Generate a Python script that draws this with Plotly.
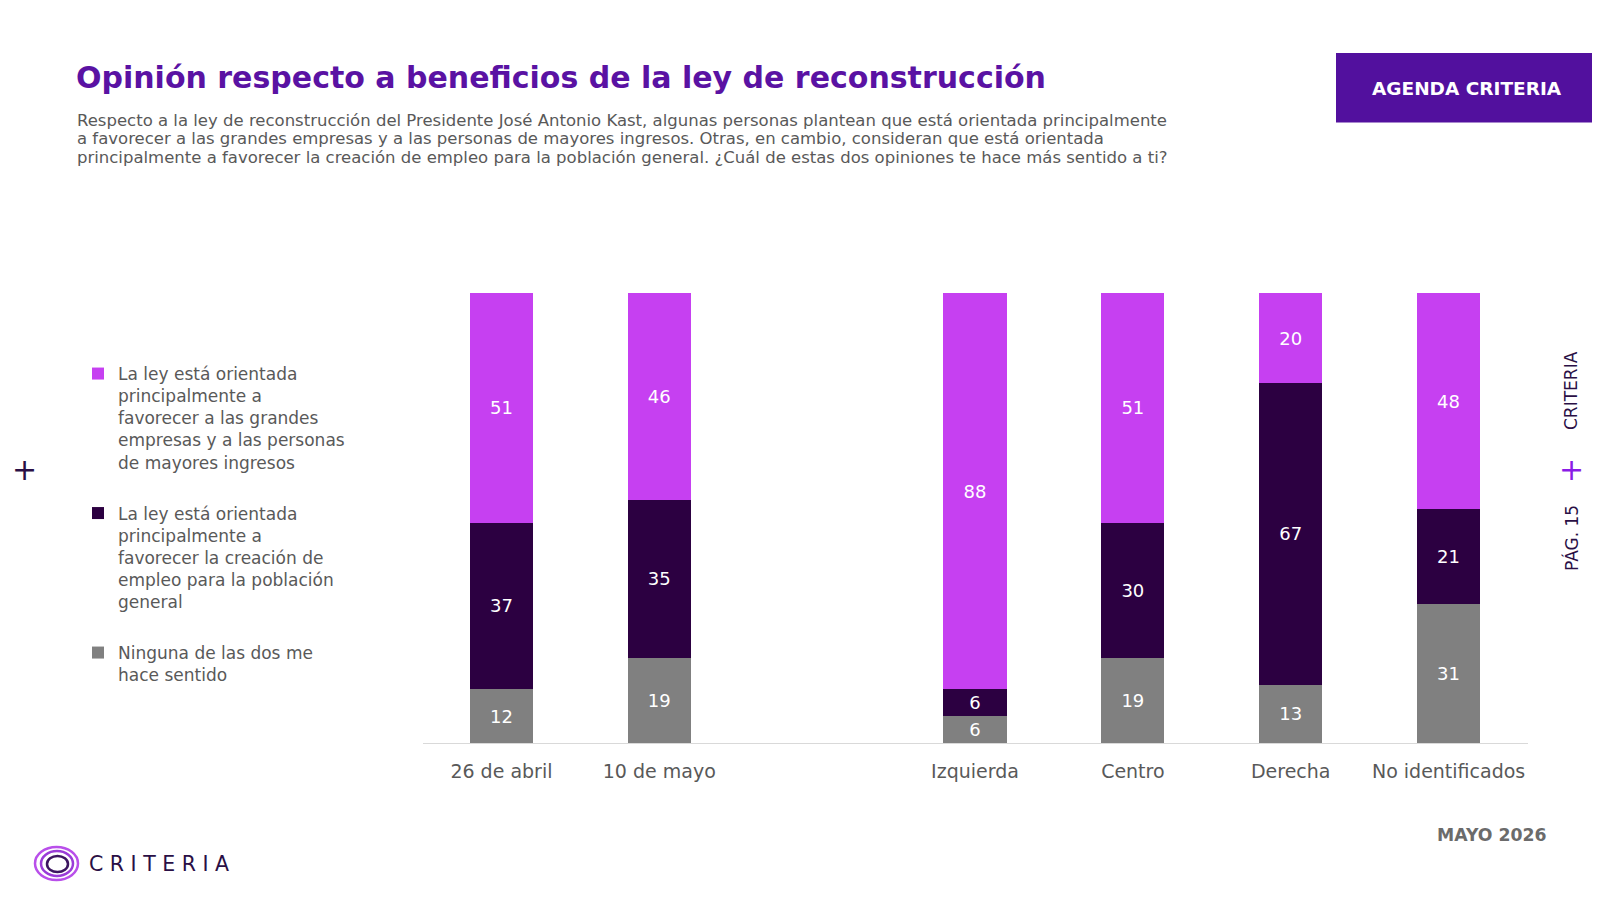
import plotly.graph_objects as go

categories = ["26 de abril", "10 de mayo", " ", "Izquierda", "Centro", "Derecha", "No identificados"]
bar_categories = ["26 de abril", "10 de mayo", "Izquierda", "Centro", "Derecha", "No identificados"]
empresas = [51, 46, 88, 51, 20, 48]
empleo = [37, 35, 6, 30, 67, 21]
ninguna = [12, 19, 6, 19, 13, 31]

series_names = [
    "Ninguna de las dos me<br>hace sentido",
    "La ley está orientada<br>principalmente a<br>favorecer la creación de<br>empleo para la población<br>general",
    "La ley está orientada<br>principalmente a<br>favorecer a las grandes<br>empresas y a las personas<br>de mayores ingresos",
]
series_values = [ninguna, empleo, empresas]
series_colors = ["#808080", "#2C0041", "#C640F1"]
legend_ranks = [3, 2, 1]

title = "Opinión respecto a beneficios de la ley de reconstrucción"
subtitle_lines = [
    "Respecto a la ley de reconstrucción del Presidente José Antonio Kast, algunas personas plantean que está orientada principalmente",
    "a favorecer a las grandes empresas y a las personas de mayores ingresos. Otras, en cambio, consideran que está orientada",
    "principalmente a favorecer la creación de empleo para la población general. ¿Cuál de estas dos opiniones te hace más sentido a ti?",
]

FONT = "DejaVu Sans"
W, H = 1592, 892

fig = go.Figure()
for i, (name, vals, col, rk) in enumerate(zip(series_names, series_values, series_colors, legend_ranks)):
    fig.add_trace(go.Bar(
        x=bar_categories, y=vals, name=name, marker_color=col, marker_line_width=0,
        width=0.4, text=vals, texttemplate="%{text}", textposition="inside",
        insidetextanchor="middle", textangle=0, constraintext="none",
        textfont=dict(color="white", size=18, family=FONT),
        legendgroup=f"g{i}", legendrank=rk, hoverinfo="skip",
    ))

def px_x(x):
    return x / W

def px_y(y):
    return 1 - y / H

fig.update_layout(
    width=W, height=H, barmode="stack",
    margin=dict(l=0, r=0, t=0, b=0),
    paper_bgcolor="white", plot_bgcolor="white",
    font=dict(family=FONT, color="#595959"),
    xaxis=dict(domain=[px_x(414.5), px_x(1519.5)], type="category",
               categoryorder="array", categoryarray=categories,
               range=[-0.5, len(categories) - 0.5],
               showline=True, linecolor="#D9D9D9", linewidth=1,
               showgrid=False, zeroline=False, ticks="",
               tickfont=dict(size=19, color="#595959", family=FONT),
               ticklabelstandoff=11, fixedrange=True),
    yaxis=dict(domain=[px_y(735), px_y(285)], range=[0, 100], visible=False, fixedrange=True),
    showlegend=True,
    legend=dict(x=px_x(70), y=px_y(348), xanchor="left", yanchor="top",
                traceorder="grouped", tracegroupgap=26, valign="top",
                font=dict(size=17, color="#595959", family=FONT),
                bgcolor="rgba(0,0,0,0)", itemclick=False, itemdoubleclick=False),
)

annotations = []
annotations.append(dict(text=f"<b>{title}</b>", x=px_x(66), y=px_y(69.5), xref="paper", yref="paper",
                        xanchor="left", yanchor="middle", showarrow=False,
                        font=dict(size=30, color="#5A12A3", family=FONT)))
for line, yy in zip(subtitle_lines, [112.4, 130.8, 149.1]):
    annotations.append(dict(text=line, x=px_x(67), y=px_y(yy), xref="paper", yref="paper",
                            xanchor="left", yanchor="middle", showarrow=False,
                            font=dict(size=16.5, color="#595959", family=FONT)))
annotations.append(dict(text="<b>AGENDA CRITERIA</b>", x=px_x(1459), y=px_y(81), xref="paper", yref="paper",
                        xanchor="center", yanchor="middle", showarrow=False,
                        font=dict(size=18.5, color="white", family=FONT)))
annotations.append(dict(text="CRITERIA", x=px_x(1563), y=px_y(383), xref="paper", yref="paper",
                        xanchor="center", yanchor="middle", showarrow=False, textangle=-90,
                        font=dict(size=17, color="#2A0F45", family=FONT)))
annotations.append(dict(text="PÁG. 15", x=px_x(1563), y=px_y(530), xref="paper", yref="paper",
                        xanchor="center", yanchor="middle", showarrow=False, textangle=-90,
                        font=dict(size=17, color="#2A0F45", family=FONT)))
annotations.append(dict(text="+", x=px_x(1563), y=px_y(461), xref="paper", yref="paper",
                        xanchor="center", yanchor="middle", showarrow=False,
                        font=dict(size=30, color="#8A1CE6", family=FONT)))
annotations.append(dict(text="+", x=px_x(16.5), y=px_y(461), xref="paper", yref="paper",
                        xanchor="center", yanchor="middle", showarrow=False,
                        font=dict(size=30, color="#2A0F45", family=FONT)))
annotations.append(dict(text="<b>MAYO 2026</b>", x=px_x(1541), y=px_y(827), xref="paper", yref="paper",
                        xanchor="right", yanchor="middle", showarrow=False,
                        font=dict(size=17.3, color="#6B6B6B", family=FONT)))
annotations.append(dict(text="C R I T E R I A", x=px_x(79), y=px_y(856), xref="paper", yref="paper",
                        xanchor="left", yanchor="middle", showarrow=False,
                        font=dict(size=20.5, color="#2A0F45", family=FONT)))
fig.update_layout(annotations=annotations)

shapes = []
shapes.append(dict(type="rect", xref="paper", yref="paper", x0=px_x(1328), x1=1.0,
                   y0=px_y(114.5), y1=px_y(45), fillcolor="#52109E", line_width=0, layer="below"))
# logo rings
for (x0, x1, y0, y1, col, lw) in [(27, 70, 839, 872, "#B94FEA", 2.5),
                                  (33, 65, 843, 868, "#9A3BD8", 2.5),
                                  (39, 60, 848, 864, "#3C1560", 2.5)]:
    shapes.append(dict(type="circle", xref="paper", yref="paper", x0=px_x(x0), x1=px_x(x1),
                       y0=px_y(y1), y1=px_y(y0), line=dict(color=col, width=lw), fillcolor="rgba(0,0,0,0)"))
fig.update_layout(shapes=shapes)

fig.write_html("out.html")
